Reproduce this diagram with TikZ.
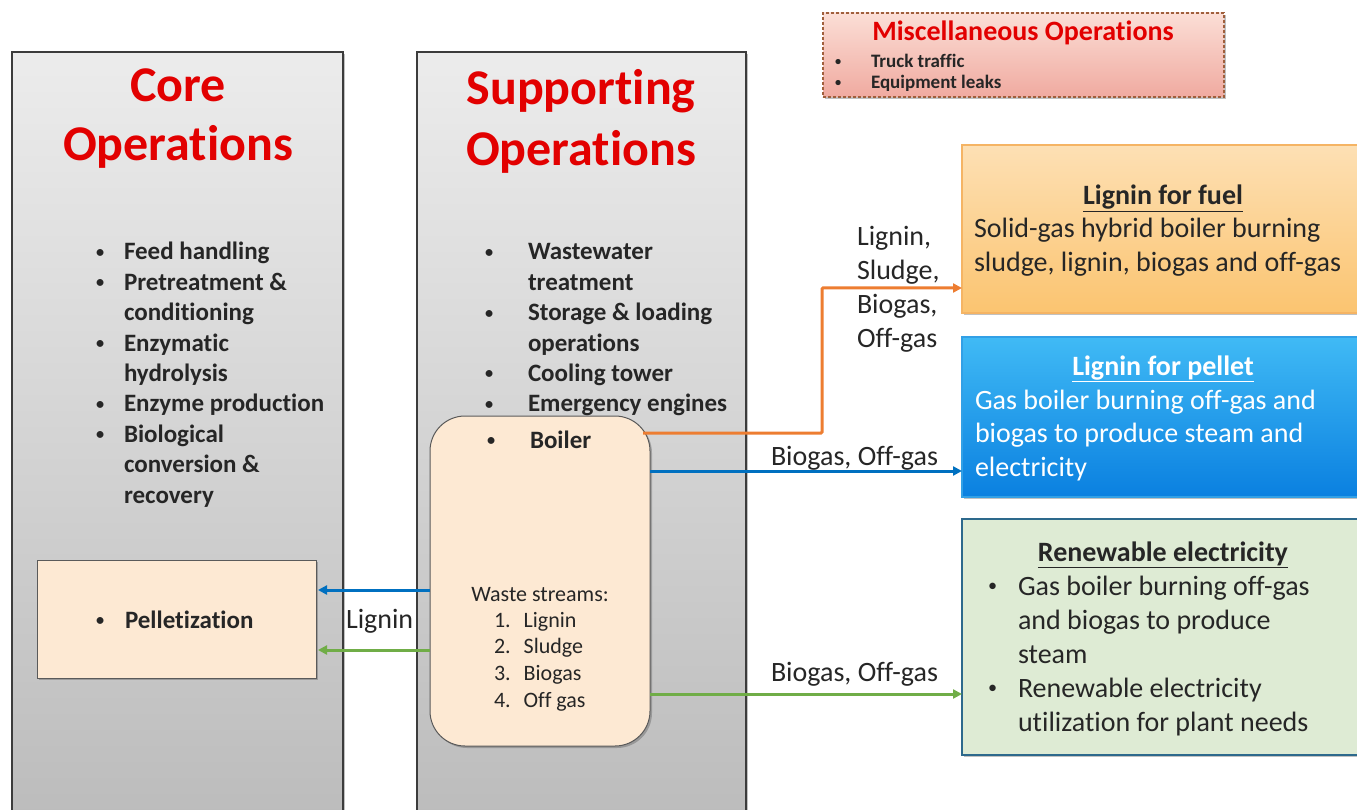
\documentclass[tikz,border=0pt]{standalone}
\usepackage{fontspec}
\usepackage{graphicx}
\setmainfont{Carlito}[Ligatures={NoCommon}]
\usetikzlibrary{arrows.meta,shadows}
\definecolor{coltop}{RGB}{236,236,236}
\definecolor{colmid}{RGB}{216,216,216}
\definecolor{colbot}{RGB}{188,188,188}
\definecolor{colborder}{RGB}{60,60,60}
\definecolor{titlered}{RGB}{226,0,0}
\definecolor{txt}{RGB}{38,38,38}
\definecolor{peach}{RGB}{253,233,211}
\definecolor{peachborder}{RGB}{90,90,90}
\definecolor{misctop}{RGB}{251,222,214}
\definecolor{miscbot}{RGB}{240,170,160}
\definecolor{miscborder}{RGB}{160,95,60}
\definecolor{fueltop}{RGB}{253,224,180}
\definecolor{fuelbot}{RGB}{251,196,112}
\definecolor{fuelborder}{RGB}{245,180,100}
\definecolor{pellettop}{RGB}{64,186,245}
\definecolor{pelletbot}{RGB}{10,128,224}
\definecolor{pelletborder}{RGB}{50,160,230}
\definecolor{elecfill}{RGB}{222,235,212}
\definecolor{elecborder}{RGB}{45,105,140}
\definecolor{arrorange}{RGB}{237,125,49}
\definecolor{arrblue}{RGB}{0,112,192}
\definecolor{arrgreen}{RGB}{112,173,71}
\newcommand{\fsz}[2]{\fontsize{#1}{#2}\selectfont}
\newcommand{\smbul}{\raisebox{0.11em}{\scalebox{0.65}{\textbullet}}}
\newcommand{\bl}[1]{\makebox[#1][l]{\smbul}}
\begin{document}
\begin{tikzpicture}[x=1pt,y=-1pt,
  every node/.style={inner sep=0pt,outer sep=0pt},
  shad/.style={drop shadow={shadow xshift=2pt,shadow yshift=-2pt,opacity=0.35,fill=black!70}},
  colbox/.style={draw=colborder,line width=1.2pt,top color=coltop,middle color=colmid,bottom color=colbot,shad},
  peachbox/.style={draw=peachborder,line width=1pt,fill=peach,shad},
  conn/.style={line width=3pt,-{Triangle[length=9pt,width=9pt]}},
  coltitle/.style={text=titlered,font=\fsz{50}{60}\bfseries},
  bodytxt/.style={text=txt},
]
\useasboundingbox (0,0) rectangle (1357,810);

% columns
\node[colbox,minimum width=331pt,minimum height=765pt] (core) at (177.5,434.5) {};
\node[colbox,minimum width=329pt,minimum height=765pt] (supp) at (581.5,434.5) {};

% misc box
\node[draw=miscborder,line width=1.2pt,dash pattern=on 3pt off 2pt,top color=misctop,bottom color=miscbot,minimum width=401pt,minimum height=84pt,shad] (misc) at (1023.5,55) {};

% right boxes
\node[draw=fuelborder,line width=1.5pt,top color=fueltop,bottom color=fuelbot,minimum width=398pt,minimum height=168pt,shad] (lf) at (1161,229) {};
\node[draw=pelletborder,line width=1.5pt,top color=pellettop,bottom color=pelletbot,minimum width=398pt,minimum height=160pt,shad] (lp) at (1161,417) {};
\node[draw=elecborder,line width=1.5pt,fill=elecfill,minimum width=398pt,minimum height=236pt,shad] (re) at (1161,637) {};

% pelletization and boiler boxes
\node[peachbox,minimum width=279pt,minimum height=118pt] (pel) at (176.5,619) {};
\node[peachbox,rounded corners=35pt,minimum width=220pt,minimum height=330pt] (boiler) at (540,581) {};

% helper coordinates
\coordinate (ostart) at (643,433);
\coordinate (obend1) at (822,433);
\coordinate (obend2) at (822,288);
\coordinate (yblue) at (0,471);
\coordinate (ygreen) at (0,694);
\coordinate (ylblue) at (0,590);
\coordinate (ylgreen) at (0,650);

% connectors
\draw[conn,arrorange,rounded corners=1pt] (ostart) -- (obend1) -- (obend2) -- (obend2 -| lf.west);
\draw[conn,arrblue] (boiler.east |- yblue) -- (lp.west |- yblue);
\draw[conn,arrgreen] (boiler.east |- ygreen) -- (re.west |- ygreen);
\draw[conn,arrblue] (boiler.west |- ylblue) -- ([xshift=2pt]pel.east |- ylblue);
\draw[conn,arrgreen] (boiler.west |- ylgreen) -- ([xshift=2pt]pel.east |- ylgreen);

% column titles
\node[coltitle,anchor=base] (coret) at (178,102) {\begin{tabular}[t]{@{}c@{}}Core\\[-1pt]Operations\end{tabular}};
\node[coltitle,anchor=base] (suppt) at (581,105) {\begin{tabular}[t]{@{}c@{}}Supporting\\[1pt]Operations\end{tabular}};

% core list
\node[bodytxt,anchor=base west,font=\fsz{25}{30.4}\bfseries] (corelist) at (96,260) {\begin{tabular}[t]{@{}l@{}l@{}}
\bl{28pt} & Feed handling\\
\bl{28pt} & Pretreatment \&\\
 & conditioning\\
\bl{28pt} & Enzymatic\\
 & hydrolysis\\
\bl{28pt} & Enzyme production\\
\bl{28pt} & Biological\\
 & conversion \&\\
 & recovery
\end{tabular}};

% supporting list
\node[bodytxt,anchor=base west,font=\fsz{25}{30.4}\bfseries] (supplist) at (485,260) {\begin{tabular}[t]{@{}l@{}l@{}}
\bl{43pt} & Wastewater\\
 & treatment\\
\bl{43pt} & Storage \& loading\\
 & operations\\
\bl{43pt} & Cooling tower\\
\bl{43pt} & Emergency engines
\end{tabular}};

% boiler texts
\node[bodytxt,anchor=base west,font=\fsz{25}{30.4}\bfseries] (boilert) at (487,448) {\bl{43pt}Boiler};
\node[bodytxt,anchor=base,font=\fsz{22}{26.7}] (wastet) at (540,601) {Waste streams:};
\node[bodytxt,anchor=base west,font=\fsz{22}{26.7}] (wastel) at (494,627) {\begin{tabular}[t]{@{}r@{\hspace{13pt}}l@{}}
1. & Lignin\\
2. & Sludge\\
3. & Biogas\\
4. & Off gas
\end{tabular}};

% pelletization
\node[bodytxt,anchor=base west,font=\fsz{25}{30.4}\bfseries] (pelt) at (96,628) {\bl{29pt}Pelletization};

% misc texts
\node[text=titlered,anchor=base,font=\fsz{28}{34}\bfseries] (misct) at (1023,41) {Miscellaneous Operations};
\node[bodytxt,anchor=base west,font=\fsz{19}{21}\bfseries] (miscl) at (835,68) {\begin{tabular}[t]{@{}l@{}l@{}}
\bl{36pt} & Truck traffic\\
\bl{36pt} & Equipment leaks
\end{tabular}};

% lignin for fuel
\node[bodytxt,anchor=base,font=\fsz{28}{34}\bfseries] (lft) at (1163,205) {\underline{Lignin for fuel}};
\node[bodytxt,anchor=base west,font=\fsz{28}{34}] (lfb) at (974,238) {\begin{tabular}[t]{@{}l@{}}
Solid-gas hybrid boiler burning\\
sludge, lignin, biogas and off-gas
\end{tabular}};

% lignin for pellet
\node[text=white,anchor=base,font=\fsz{28}{34}\bfseries] (lpt) at (1163,375) {\underline{Lignin for pellet}};
\node[text=white,anchor=base west,font=\fsz{28}{33.5}] (lpb) at (975,409) {\begin{tabular}[t]{@{}l@{}}
Gas boiler burning off-gas and\\
biogas to produce steam and\\
electricity
\end{tabular}};

% renewable electricity
\node[bodytxt,anchor=base,font=\fsz{28}{34}\bfseries] (ret) at (1163,561) {\underline{Renewable electricity}};
\node[bodytxt,anchor=base west,font=\fsz{28}{34}] (reb) at (988,595) {\begin{tabular}[t]{@{}l@{}l@{}}
\bl{30pt} & Gas boiler burning off-gas\\
 & and biogas to produce\\
 & steam\\
\bl{30pt} & Renewable electricity\\
 & utilization for plant needs
\end{tabular}};

% connector labels
\node[bodytxt,anchor=base west,font=\fsz{28}{34}] (lab1) at (857,246) {\begin{tabular}[t]{@{}l@{}}
Lignin,\\ Sludge,\\ Biogas,\\ Off-gas
\end{tabular}};
\node[bodytxt,anchor=base west,font=\fsz{28}{34}] (lab2) at (771,465) {Biogas, Off-gas};
\node[bodytxt,anchor=base west,font=\fsz{28}{34}] (lab3) at (771,681) {Biogas, Off-gas};
\node[bodytxt,anchor=base west,font=\fsz{28}{34}] (lab4) at (346,628) {Lignin};
\end{tikzpicture}
\end{document}
